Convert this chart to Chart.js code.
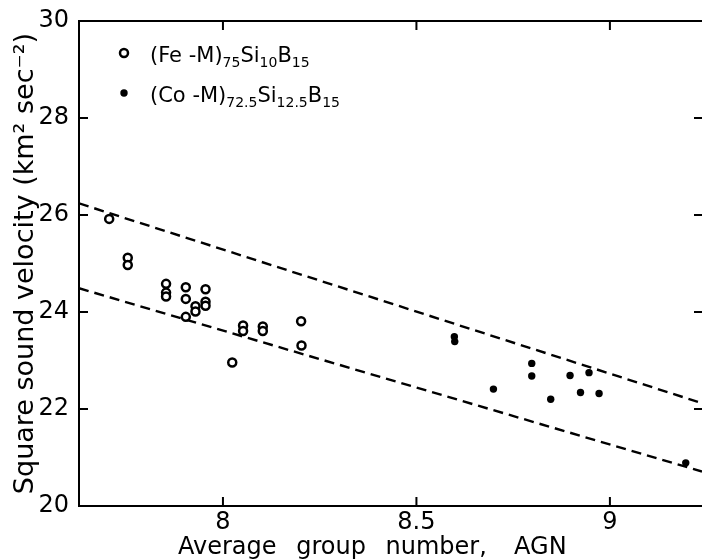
<!DOCTYPE html>
<html>
<head>
<meta charset="utf-8">
<script src="https://cdn.jsdelivr.net/npm/chart.js@4.4.0/dist/chart.umd.min.js"></script>
<style>
body { margin: 0; background: #fff; }
#wrap { width: 702px; height: 559px; position: relative; }
</style>
</head>
<body>
<div id="wrap"><canvas id="grafico"></canvas></div>
<script>
// (Fe-M)75Si10B15 - open circles
const feAGN = [7.706, 7.754, 7.754, 7.853, 7.853, 7.853, 7.904, 7.904, 7.904, 7.929, 7.929,
               7.955, 7.955, 7.955, 8.024, 8.052, 8.052, 8.103, 8.103, 8.202, 8.203];
const feV2 = [25.92, 25.12, 24.97, 24.58, 24.40, 24.32, 24.51, 24.27, 23.90, 24.12, 24.01,
              24.47, 24.21, 24.13, 22.96, 23.72, 23.61, 23.70, 23.61, 23.81, 23.31];

// (Co-M)72.5Si12.5B15 - filled dots
const coAGN = [8.598, 8.599, 8.699, 8.798, 8.798, 8.847, 8.897, 8.924, 8.946, 8.972, 9.196];
const coV2 = [23.49, 23.39, 22.41, 22.94, 22.68, 22.20, 22.69, 22.34, 22.75, 22.32, 20.89];

// dashed band
const bandAGN = [7.628, 9.238];
const upperV2 = [26.24, 22.12];
const lowerV2 = [24.49, 20.71];

const xTicks = [8, 8.5, 9];
const yTicks = [20, 22, 24, 26, 28, 30];
const legendLabels = ['(Fe -M)_{75}Si_{10}B_{15}', '(Co -M)_{72.5}Si_{12.5}B_{15}'];
const xTitle = 'Average\u2002 group\u2002 number,\u2002  AGN';
const yTitle = 'Square sound velocity (km\u00b2 sec\u207b\u00b2)';
const FONT = '"DejaVu Sans", sans-serif';

const toPts = (xs, ys) => xs.map((x, i) => ({ x: x, y: ys[i] }));

// texto con subindices: _{...}
function drawRich(ctx, str, x, y) {
  str.split(/(_\{[^}]*\})/).forEach(part => {
    if (!part) return;
    const sub = part.startsWith('_{');
    const txt = sub ? part.slice(2, -1) : part;
    ctx.font = (sub ? '14px ' : '21px ') + FONT;
    ctx.fillText(txt, x, sub ? y + 5 : y);
    x += ctx.measureText(txt).width;
  });
}

// marco superior, ticks hacia dentro, titulo x y leyenda
const marcoPlugin = {
  id: 'marco',
  afterDraw(chart) {
    const { ctx, chartArea: a, scales } = chart;
    ctx.save();
    ctx.strokeStyle = '#000';
    ctx.lineWidth = 2;
    ctx.beginPath();
    ctx.moveTo(a.left, a.top);
    ctx.lineTo(a.right, a.top);
    scales.x.ticks.forEach(t => {
      const px = scales.x.getPixelForValue(t.value);
      ctx.moveTo(px, a.bottom); ctx.lineTo(px, a.bottom - 9);
      ctx.moveTo(px, a.top); ctx.lineTo(px, a.top + 9);
    });
    scales.y.ticks.forEach(t => {
      const py = scales.y.getPixelForValue(t.value);
      ctx.moveTo(a.left, py); ctx.lineTo(a.left + 9, py);
      ctx.moveTo(a.right, py); ctx.lineTo(a.right - 8, py);
    });
    ctx.stroke();

    ctx.fillStyle = '#000';
    ctx.textAlign = 'left';
    ctx.textBaseline = 'alphabetic';
    ctx.font = '24px ' + FONT;
    ctx.fillText(xTitle, 178, 554);

    // leyenda
    const rows = [53, 93];
    legendLabels.forEach((lab, i) => {
      const ds = chart.data.datasets[i];
      ctx.beginPath();
      ctx.arc(124, rows[i], ds.pointRadius, 0, Math.PI * 2);
      ctx.fillStyle = ds.backgroundColor;
      ctx.fill();
      if (ds.borderWidth) {
        ctx.lineWidth = ds.borderWidth;
        ctx.strokeStyle = ds.borderColor;
        ctx.stroke();
      }
      ctx.fillStyle = '#000';
      drawRich(ctx, lab, 150, rows[i] + 9);
    });
    ctx.restore();
  }
};

new Chart(document.getElementById('grafico'), {
  type: 'scatter',
  data: {
    datasets: [
      {
        label: legendLabels[0],
        data: toPts(feAGN, feV2),
        pointRadius: 4,
        borderWidth: 2.5,
        borderColor: '#000',
        backgroundColor: '#fff'
      },
      {
        label: legendLabels[1],
        data: toPts(coAGN, coV2),
        pointRadius: 3.7,
        borderWidth: 0,
        borderColor: '#000',
        backgroundColor: '#000'
      },
      {
        type: 'line',
        data: toPts(bandAGN, upperV2),
        borderColor: '#000',
        borderWidth: 2.4,
        borderDash: [10, 6],
        pointRadius: 0,
        fill: false
      },
      {
        type: 'line',
        data: toPts(bandAGN, lowerV2),
        borderColor: '#000',
        borderWidth: 2.4,
        borderDash: [10, 6],
        pointRadius: 0,
        fill: false
      }
    ]
  },
  options: {
    responsive: true,
    maintainAspectRatio: false,
    animation: false,
    layout: { autoPadding: false, padding: { top: 21, left: 0, right: 0, bottom: 0 } },
    plugins: { legend: { display: false }, tooltip: { enabled: false } },
    scales: {
      x: {
        type: 'linear',
        min: 7.628,
        max: 9.238,
        afterBuildTicks: s => { s.ticks = xTicks.map(v => ({ value: v })); },
        afterFit: s => { s.height = 53; },
        grid: { display: false },
        border: { display: true, color: '#000', width: 2 },
        ticks: {
          color: '#000',
          padding: -6,
          font: { family: FONT, size: 24 },
          callback: v => String(v)
        }
      },
      y: {
        min: 20,
        max: 30,
        afterBuildTicks: s => { s.ticks = yTicks.map(v => ({ value: v })); },
        afterFit: s => { s.width = 79; },
        grid: { display: false },
        border: { display: true, color: '#000', width: 2 },
        ticks: {
          color: '#000',
          padding: 2,
          font: { family: FONT, size: 24 },
          callback: v => String(v)
        },
        title: {
          display: true,
          text: yTitle,
          color: '#000',
          font: { family: FONT, size: 27 },
          padding: { top: 10, bottom: 0 }
        }
      }
    }
  },
  plugins: [marcoPlugin]
});
</script>
</body>
</html>
